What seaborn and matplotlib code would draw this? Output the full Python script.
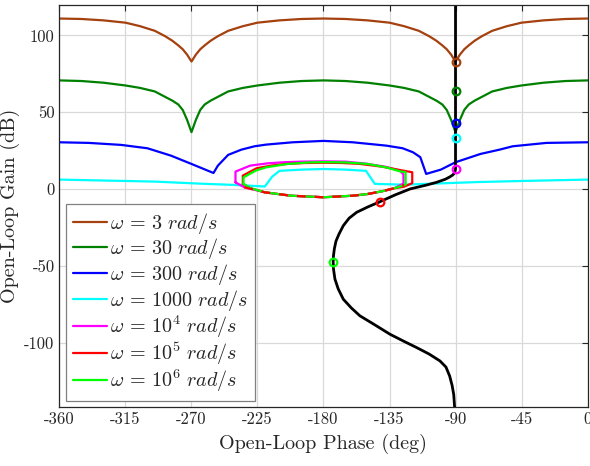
import numpy as np
import pandas as pd
import matplotlib
matplotlib.use("Agg")
import matplotlib.pyplot as plt
import seaborn as sns

# phase grid shared by the two upper templates (deg)
phase_bg = [-360, -345, -330, -315, -305, -295, -288, -283, -279, -276, -273, -270,
            -267, -264, -261, -257, -252, -245, -235, -225, -210, -195, -180,
            -165, -150, -135, -125, -115, -108, -103, -99, -96, -93, -90,
            -87, -84, -81, -77, -72, -65, -55, -45, -30, -15, 0]
gain_w3 = [111, 110.7, 109.8, 108.3, 106, 103, 99.5, 96.5, 93.5, 91, 87.5, 83,
           87.5, 91, 93.5, 96.5, 99.5, 103, 106, 108.3, 109.8, 110.7, 111,
           110.7, 109.8, 108.3, 106, 103, 99.5, 96.5, 93.5, 91, 87.5, 83,
           87.5, 91, 93.5, 96.5, 99.5, 103, 106, 108.3, 109.8, 110.7, 111]
gain_w30 = [70.7, 70.3, 69.2, 67.4, 65.8, 63.5, 60, 57.5, 55, 51.5, 45, 37,
            45, 51.5, 55, 57.5, 60, 63.5, 65.8, 67.4, 69.2, 70.3, 70.7,
            70.3, 69.2, 67.4, 65.8, 63.5, 60, 57.5, 55, 51.5, 45, 37,
            45, 51.5, 55, 57.5, 60, 63.5, 65.8, 67.4, 69.2, 70.3, 70.7]

phase_w300 = [-360, -340, -318, -300, -284, -270, -255, -252, -245, -236, -227, -219,
              -201, -180, -160, -137, -126, -119, -114, -110, -100, -90, -73, -60,
              -51, -28, 0]
gain_w300 = [30.4, 30, 28.7, 26.5, 21.7, 16.3, 10.4, 15.2, 22.2, 25.6, 27.8, 28.9,
             30.4, 31.3, 30.4, 28.2, 26.5, 23.9, 20.7, 9.8, 12.6, 17.4, 22.8, 25.6,
             27.8, 30, 30.4]

phase_w1000 = [-360, -330, -295, -265, -240, -220, -215, -210, -195, -180, -165,
               -151, -145, -125, -107, -75, -40, 0]
gain_w1000 = [6.1, 5.5, 4.8, 3.5, 2.6, 1.6, 8, 11.8, 12.6, 13, 12.6,
              11.8, 3.3, 2.8, 3.4, 4.5, 5.3, 6.1]

phase_w1e4 = [-240, -240, -230, -218, -207, -195, -180, -165, -151, -138, -128, -125.5,
              -125.5, -132, -140, -150, -160, -180, -202, -220, -234, -240]
gain_w1e4 = [4.3, 11.3, 15.2, 16.7, 17.4, 17.8, 18, 17.8, 16.5, 14.5, 12, 9.5,
             3.5, 0.4, -1.5, -3.3, -4.4, -5.4, -4.4, -2.2, 1.1, 4.3]

phase_w1e5 = [-235, -235, -225.6, -215, -205, -193, -180, -167, -155, -140, -126, -119.5,
              -119.5, -125, -132, -140, -150, -160, -180, -202, -220, -230, -235]
gain_w1e5 = [3.3, 8.7, 13.5, 15.3, 16.3, 16.9, 17.1, 16.9, 16.3, 14.5, 12, 10.9,
             3.8, 1.5, 0.4, -1.5, -3.3, -4.4, -5.4, -4.4, -2.2, 0.6, 3.3]

phase_w1e6 = [-234.5, -234.5, -226, -219, -205, -190, -180, -165, -150, -137, -128, -124,
              -124, -132, -140, -150, -160, -180, -202, -220, -230, -234.5]
gain_w1e6 = [3.3, 7.6, 12, 14.1, 16.2, 17.3, 17.5, 17.3, 16.3, 14, 11.5, 10.9,
             2.8, 0.4, -1.5, -3.3, -4.4, -5.4, -4.4, -2.2, 0.6, 3.3]

# lower edge shared by the three high-frequency templates
phase_low = [-234, -220, -202, -180, -160, -150, -140, -132, -125]
gain_low = [1.1, -2.2, -4.4, -5.4, -4.4, -3.3, -1.5, 0.4, 2.5]

# nominal open-loop response
phase_nom = [-90, -90, -90.6, -92, -94, -97, -103, -110, -121, -131, -141.5, -150,
             -157.4, -162.5, -166.5, -169.5, -171.5, -172.6, -173.2, -173.4, -173.2,
             -172.2, -170, -166.5, -161, -155.2, -145, -134.7, -125, -116.5, -108,
             -100.6, -96.5, -94, -92.3, -91.2, -90.4]
gain_nom = [125, 13, 10.5, 9, 7.8, 6.3, 4.3, 2.5, 0, -3.8, -8.3, -11.8,
            -15.2, -19, -23.9, -29.5, -34, -39, -43.5, -47.4, -52,
            -58.7, -65, -71.8, -77.5, -82.6, -88.5, -94.6, -99.3, -103.3, -107.5,
            -112, -116, -121.8, -128, -134, -145]

# nominal points at each template frequency
mark_phase = [-90, -90, -90, -90, -90, -141.5, -173.4]
mark_gain = [83, 63.5, 43, 33, 13, -8.3, -47.4]

labels = [r"$\omega\,=\,3\ rad/s$", r"$\omega\,=\,30\ rad/s$", r"$\omega\,=\,300\ rad/s$",
          r"$\omega\,=\,1000\ rad/s$", r"$\omega\,=\,10^4\ rad/s$",
          r"$\omega\,=\,10^5\ rad/s$", r"$\omega\,=\,10^6\ rad/s$"]
colors = ["#a5400f", "#008000", "#0000ff", "#00ffff", "#ff00ff", "#ff0000", "#00ff00"]

curves = [(phase_bg, gain_w3), (phase_bg, gain_w30), (phase_w300, gain_w300),
          (phase_w1000, gain_w1000), (phase_w1e4, gain_w1e4),
          (phase_w1e5, gain_w1e5), (phase_w1e6, gain_w1e6)]

sns.set_style("white")
plt.rcParams["font.family"] = "cmr10"
plt.rcParams["mathtext.fontset"] = "cm"
plt.rcParams["axes.unicode_minus"] = False
plt.rcParams["axes.formatter.use_mathtext"] = False

fig = plt.figure(figsize=(5.9, 4.66), dpi=100)
ax = fig.add_axes([0.1008, 0.1266, 0.8950, 0.8633])

for (ph, g), lab, col in zip(curves, labels, colors):
    df = pd.DataFrame({"phase": ph, "gain": g})
    sns.lineplot(data=df, x="phase", y="gain", sort=False, estimator=None,
                 color=col, lw=1.6, label=lab, ax=ax)

# overlapping lower edges look dashed in the original
low = pd.DataFrame({"phase": phase_low, "gain": gain_low})
sns.lineplot(data=low, x="phase", y="gain", sort=False, estimator=None,
             color="#ff0000", lw=1.6, ax=ax, legend=False)
ax.lines[-1].set_linestyle((0, (4, 4)))

nom = pd.DataFrame({"phase": phase_nom, "gain": gain_nom})
sns.lineplot(data=nom, x="phase", y="gain", sort=False, estimator=None,
             color="black", lw=2.0, ax=ax, legend=False)

for p, g, col in zip(mark_phase, mark_gain, colors):
    ax.plot(p, g, "o", ms=5.5, mfc="none", mec=col, mew=1.6, zorder=5)

ax.set_xlim(-360, 0)
ax.set_ylim(-142, 120)
ax.set_xticks(np.arange(-360, 1, 45))
ax.set_yticks([-100, -50, 0, 50, 100])
ax.grid(True, color="#d9d9d9", lw=0.9)
ax.set_axisbelow(True)
ax.tick_params(direction="in", labelsize=12, length=4, color="#262626",
               top=True, right=True)
for s in ax.spines.values():
    s.set_color("#262626")
    s.set_linewidth(0.9)

ax.set_xlabel("Open-Loop Phase (deg)", fontsize=14.5, labelpad=5)
ax.set_ylabel("Open-Loop Gain (dB)", fontsize=14.5, labelpad=3)

leg = ax.legend(loc="lower left", fontsize=14.5, frameon=True, fancybox=False,
                edgecolor="#808080", framealpha=1, borderaxespad=0.3,
                handlelength=1.7, handletextpad=0.15, labelspacing=0.03,
                borderpad=0.35)
leg.get_frame().set_linewidth(0.9)

fig.savefig("out.png", dpi=100)
